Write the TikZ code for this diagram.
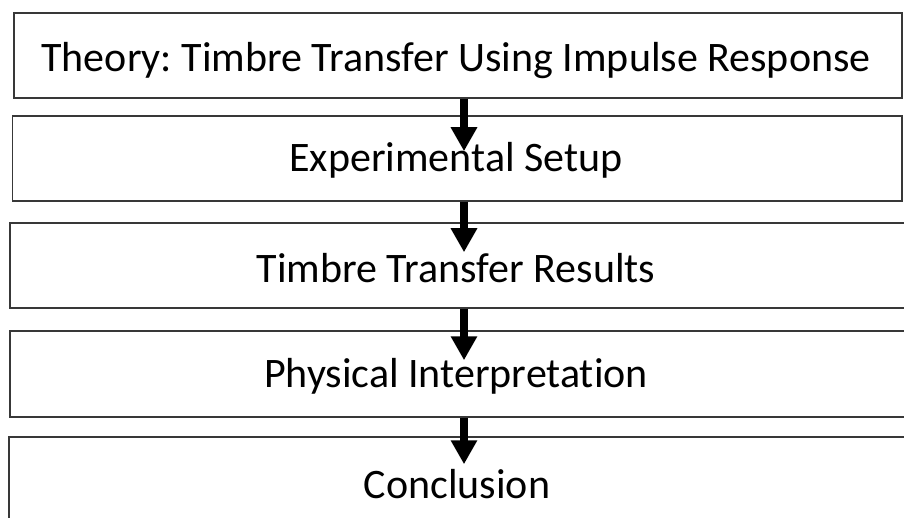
\documentclass[tikz,border=0pt]{standalone}
\usepackage{fontspec}
\setmainfont{Carlito}[Ligatures=NoCommon]
\usetikzlibrary{arrows.meta,calc}
\begin{document}
\frenchspacing
\begin{tikzpicture}[x=1pt,y=-1pt,
  stagebox/.style={draw=black!78,line width=1.5pt,fill=white,inner sep=0pt,
    minimum height=85pt},
  stagetext/.style={anchor=base,inner sep=0pt,font=\fontsize{42}{50}\selectfont},
  flowarrow/.style={line width=8pt,-{Triangle[width=25pt,length=24pt]}}]
  \useasboundingbox (0,0) rectangle (904,518);
  \clip (0,0) rectangle (904,518);
  % the five stages, top to bottom
  \node[stagebox,minimum width=888pt]   (b1) at (458,55.5)  {};
  \node[stagebox,minimum width=889.5pt] (b2) at (457.25,158.5) {};
  \node[stagebox,minimum width=896pt]   (b3) at (458,265.5) {};
  \node[stagebox,minimum width=896pt,minimum height=86pt] (b4) at (458,374) {};
  \node[stagebox,minimum width=897pt]   (b5) at (457.5,479.5) {};
  % stage titles, placed on their baselines
  \node[stagetext] (t1) at (456,72)  {Theory: Timbre Transfer Using Impulse Response};
  \node[stagetext] (t2) at (456,172) {Experimental Setup};
  \node[stagetext] (t3) at (456,283) {Timbre Transfer Results};
  \node[stagetext] (t4) at (456,387) {Physical Interpretation};
  \node[stagetext] (t5) at (457,498) {Conclusion};
  % vertical axis of the arrows
  \coordinate (ax) at (464,0);
  \draw[flowarrow] (b1.south -| ax) -- ([yshift=-36pt]b2.north -| ax);
  \draw[flowarrow] (b2.south -| ax) -- ([yshift=-30pt]b3.north -| ax);
  \draw[flowarrow] (b3.south -| ax) -- ([yshift=-30pt]b4.north -| ax);
  \draw[flowarrow] (b4.south -| ax) -- ([yshift=-28pt]b5.north -| ax);
\end{tikzpicture}
\end{document}
